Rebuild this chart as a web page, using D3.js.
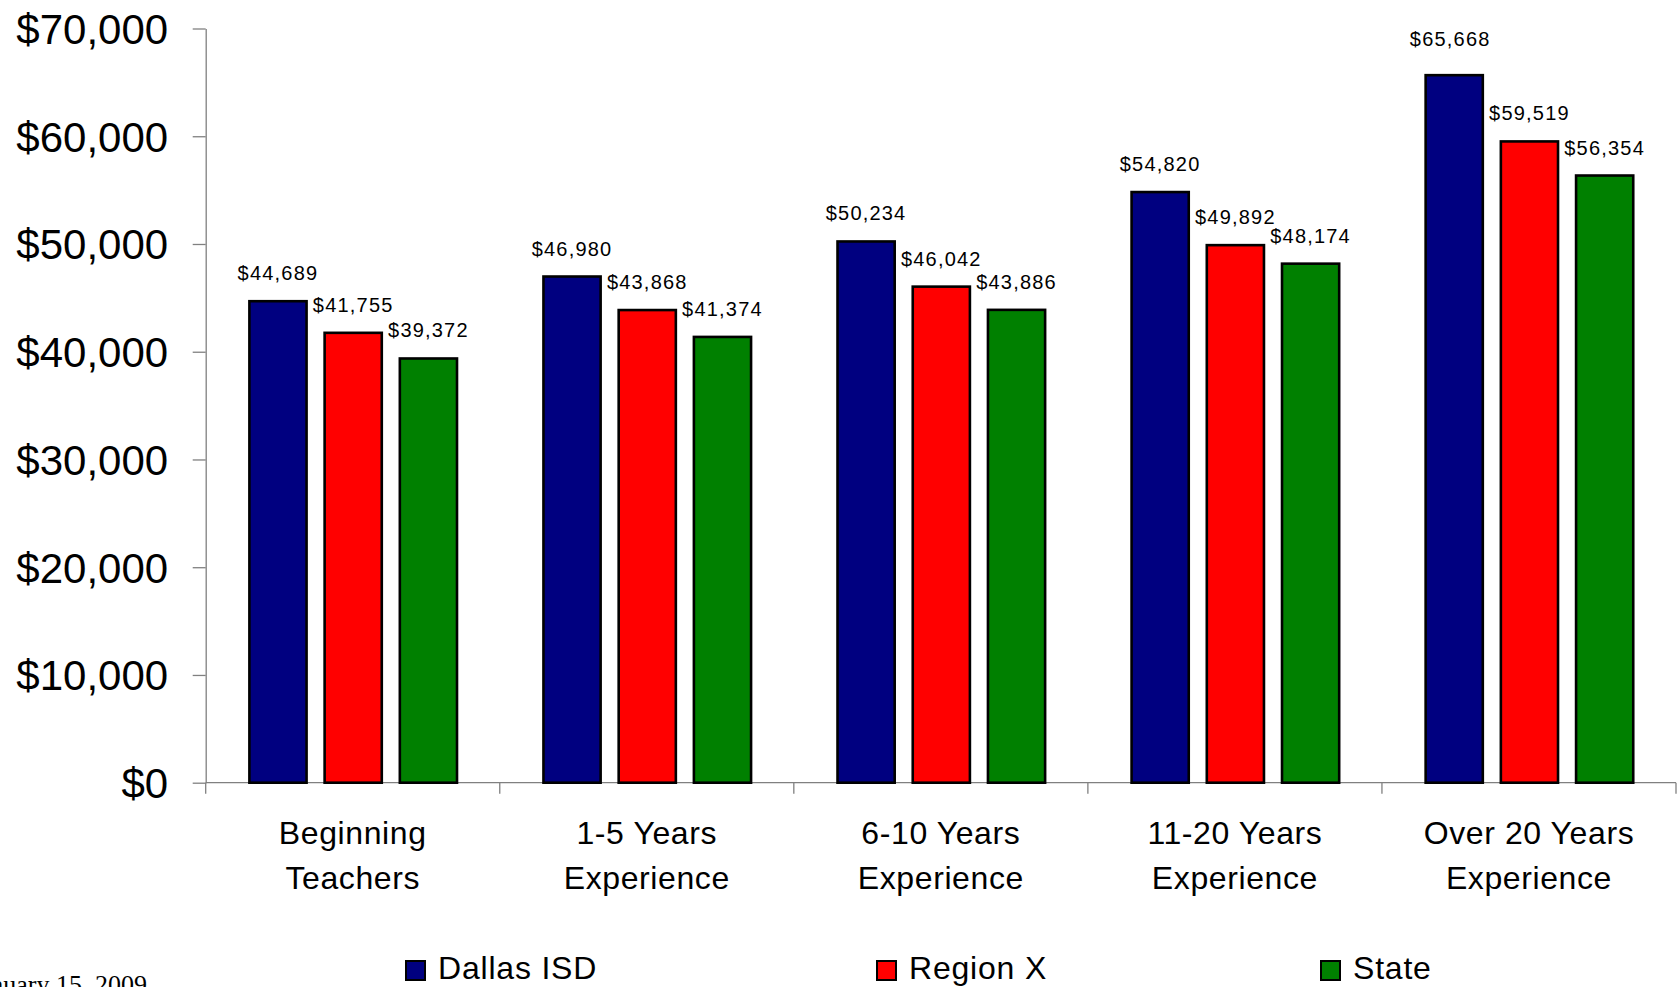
<!DOCTYPE html>
<html>
<head>
<meta charset="utf-8">
<script src="https://cdn.jsdelivr.net/npm/d3@7"></script>
<style>
  html, body { margin: 0; padding: 0; background: #ffffff; overflow: hidden; }
  svg { display: block; }
</style>
</head>
<body>
<svg id="chart" width="1679" height="987"></svg>
<script>
// ---- Data ----
const categories = ["Beginning Teachers", "1-5 Years Experience", "6-10 Years Experience", "11-20 Years Experience", "Over 20 Years Experience"];
const categoryLines = [["Beginning", "Teachers"], ["1-5 Years", "Experience"], ["6-10 Years", "Experience"], ["11-20 Years", "Experience"], ["Over 20 Years", "Experience"]];
const seriesNames = ["Dallas ISD", "Region X", "State"];
const dallasISD = [44689, 46980, 50234, 54820, 65668];
const regionX = [41755, 43868, 46042, 49892, 59519];
const stateAvg = [39372, 41374, 43886, 48174, 56354];
const yTicks = [0, 10000, 20000, 30000, 40000, 50000, 60000, 70000];
const dateNote = "January 15, 2009";

const seriesColors = ["#000080", "#FF0000", "#008000"];
const seriesValues = [dallasISD, regionX, stateAvg];

// ---- Layout ----
const svg = d3.select("#chart");
const plotLeft = 205.7, plotRight = 1676, plotTop = 28.5, plotBottom = 782.7;
const axisColor = "#808080";

const y = d3.scaleLinear().domain([0, 70000]).range([plotBottom, plotTop]);
const x0 = d3.scaleBand().domain(categories).range([plotLeft, plotRight]).padding(0);
const x1 = d3.scaleBand().domain(seriesNames).range([43.7, 251.3]).paddingInner(0.24).paddingOuter(0);
const color = d3.scaleOrdinal().domain(seriesNames).range(seriesColors);

const fmt = d3.format(",");
const maxValue = d3.max(seriesValues.flat());

// ---- Y axis ----
const yAxis = d3.axisLeft(y).tickValues(yTicks).tickSize(13).tickSizeOuter(0).tickFormat(d => "$" + fmt(d));
const yg = svg.append("g").attr("transform", `translate(${plotLeft},0)`).call(yAxis);
yg.select(".domain").attr("stroke", axisColor).attr("stroke-width", 1.3);
yg.selectAll(".tick line").attr("stroke", axisColor).attr("stroke-width", 1.3);
yg.selectAll(".tick text")
  .attr("x", -37.5)
  .attr("dy", null)
  .attr("y", 15)
  .attr("fill", "#000")
  .style("font-family", "'Liberation Sans', Arial, sans-serif")
  .style("font-size", "42px");

// ---- X axis ----
const boundaries = categories.map(c => x0(c)).concat([x0.range()[1]]);
const xg = svg.append("g");
xg.append("line")
  .attr("x1", x0.range()[0]).attr("x2", x0.range()[1])
  .attr("y1", y(0)).attr("y2", y(0))
  .attr("stroke", axisColor).attr("stroke-width", 1.3);
xg.selectAll("line.xtick").data(boundaries).enter().append("line")
  .attr("class", "xtick")
  .attr("x1", d => d).attr("x2", d => d)
  .attr("y1", y(0)).attr("y2", y(0) + 11)
  .attr("stroke", axisColor).attr("stroke-width", 1.3);

// Category labels
const catG = svg.append("g");
categories.forEach((c, i) => {
  const t = catG.append("text")
    .attr("x", x0(c) + x0.bandwidth() / 2)
    .attr("y", 844)
    .attr("text-anchor", "middle")
    .style("font-family", "'Liberation Sans', Arial, sans-serif")
    .style("font-size", "32px")
    .style("letter-spacing", "0.6px")
    .attr("fill", "#000");
  categoryLines[i].forEach((line, j) => {
    t.append("tspan")
      .attr("x", x0(c) + x0.bandwidth() / 2)
      .attr("dy", j === 0 ? 0 : 45)
      .text(line);
  });
});

// ---- Bars ----
const rows = categories.map((c, i) => ({
  cat: c,
  vals: seriesNames.map((s, k) => ({ series: s, value: seriesValues[k][i] }))
}));

const groups = svg.append("g").selectAll("g").data(rows).enter().append("g")
  .attr("transform", d => `translate(${x0(d.cat)},0)`);

groups.selectAll("rect").data(d => d.vals).enter().append("rect")
  .attr("x", d => x1(d.series))
  .attr("y", d => y(d.value))
  .attr("width", x1.bandwidth())
  .attr("height", d => y(0) - y(d.value))
  .attr("fill", d => color(d.series))
  .attr("stroke", "#000")
  .attr("stroke-width", 2.6);

groups.selectAll("text.val").data(d => d.vals).enter().append("text")
  .attr("class", "val")
  .attr("x", d => x1(d.series) + x1.bandwidth() / 2 - (d.value === maxValue ? 4 : 0))
  .attr("y", d => y(d.value) - (d.value === maxValue ? 29 : 21))
  .attr("text-anchor", "middle")
  .style("font-family", "'Liberation Sans', Arial, sans-serif")
  .style("font-size", "20px")
  .style("letter-spacing", "1.2px")
  .attr("fill", "#000")
  .text(d => "$" + fmt(d.value));

// ---- Legend ----
const legendX = [405, 876, 1320];
const legend = svg.append("g").selectAll("g").data(seriesNames).enter().append("g")
  .attr("transform", (d, i) => `translate(${legendX[i]},960)`);
legend.append("rect")
  .attr("x", 1).attr("y", 1)
  .attr("width", 19).attr("height", 19)
  .attr("fill", d => color(d))
  .attr("stroke", "#000").attr("stroke-width", 2);
legend.append("text")
  .attr("x", 33).attr("y", 18.5)
  .style("font-family", "'Liberation Sans', Arial, sans-serif")
  .style("font-size", "32px")
  .style("letter-spacing", "0.8px")
  .attr("fill", "#000")
  .text(d => d);

// ---- Date note (partly cut off, as in the reference) ----
svg.append("text")
  .attr("x", 147).attr("y", 993)
  .attr("text-anchor", "end")
  .style("font-family", "'Liberation Serif', 'Times New Roman', serif")
  .style("font-size", "26px")
  .attr("fill", "#000")
  .text(dateNote);
</script>
</body>
</html>
